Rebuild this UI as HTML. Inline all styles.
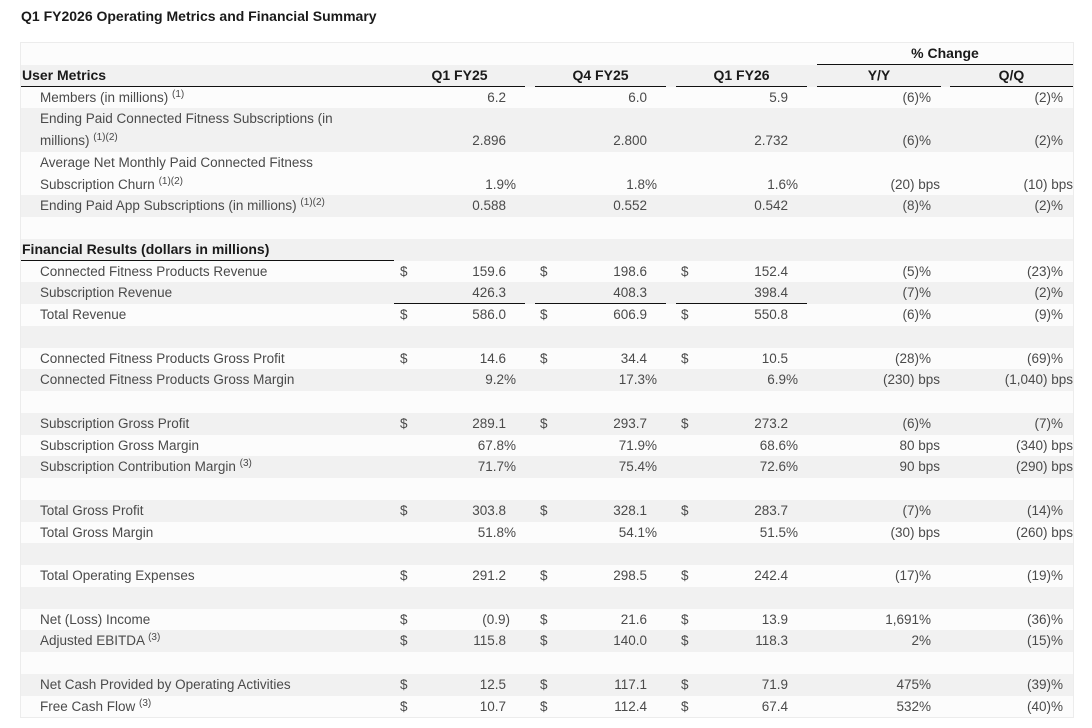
<!DOCTYPE html>
<html><head><meta charset="utf-8"><style>
body{margin:0;background:#fff;font-family:"Liberation Sans",sans-serif;color:#4a4a4a;width:1092px;height:728px;overflow:hidden;position:relative}
.t{position:absolute;left:21px;top:8px;font-size:14px;font-weight:bold;color:#1a1a1a}
.box{position:absolute;left:21px;top:43px;width:1052px;outline:1px solid #ececec}
.r{position:relative;height:21.75px;background:#fcfcfc;font-size:13.5px}
.r.g{background:#f1f1f1}
.r.h2{height:43.5px}
.r span{position:absolute;top:0;line-height:21.75px;white-space:nowrap}
.h2 span.b{top:21.75px}
.l{left:19px}
.hd{left:1px;font-weight:bold;color:#1a1a1a;font-size:14px}
.c{font-weight:bold;color:#1a1a1a;text-align:center;font-size:14px}
sup{font-size:10px;vertical-align:5px;line-height:0}
.d1{left:379px}.d2{left:519px}.d3{left:660px}
.v1{right:567px}.p1{right:557px}.v2{right:426px}.p2{right:416px}.v3{right:285px}.p3{right:275px}
.y{right:142px}.yb{right:133px}.q{right:10px}.qb{right:0px}
.u{position:absolute;height:1.5px;background:#111}
</style></head><body>
<div class="t">Q1 FY2026 Operating Metrics and Financial Summary</div>
<div class="box">
<div class="r"><span class="c" style="left:796px;width:256px">% Change</span><div class="u" style="left:796px;width:256px;top:21px"></div></div>
<div class="r g"><span class="hd">User Metrics</span><span class="c" style="left:373px;width:131px">Q1 FY25</span><span class="c" style="left:514px;width:131px">Q4 FY25</span><span class="c" style="left:655px;width:131px">Q1 FY26</span><span class="c" style="left:796px;width:124px">Y/Y</span><span class="c" style="left:929px;width:123px">Q/Q</span>
<div class="u" style="left:0;width:504px;top:21px"></div><div class="u" style="left:514px;width:131px;top:21px"></div><div class="u" style="left:655px;width:131px;top:21px"></div><div class="u" style="left:796px;width:124px;top:21px"></div><div class="u" style="left:929px;width:123px;top:21px"></div></div>
<div class="r"><span class="l">Members (in millions) <sup>(1)</sup></span><span class="v1">6.2</span><span class="v2">6.0</span><span class="v3">5.9</span><span class="y">(6)%</span><span class="q">(2)%</span></div>
<div class="r g h2"><span class="l">Ending Paid Connected Fitness Subscriptions (in</span><span class="l b">millions) <sup>(1)(2)</sup></span><span class="v1 b">2.896</span><span class="v2 b">2.800</span><span class="v3 b">2.732</span><span class="y b">(6)%</span><span class="q b">(2)%</span></div>
<div class="r h2"><span class="l">Average Net Monthly Paid Connected Fitness</span><span class="l b">Subscription Churn <sup>(1)(2)</sup></span><span class="p1 b">1.9%</span><span class="p2 b">1.8%</span><span class="p3 b">1.6%</span><span class="yb b">(20) bps</span><span class="qb b">(10) bps</span></div>
<div class="r g"><span class="l">Ending Paid App Subscriptions (in millions) <sup>(1)(2)</sup></span><span class="v1">0.588</span><span class="v2">0.552</span><span class="v3">0.542</span><span class="y">(8)%</span><span class="q">(2)%</span></div>
<div class="r"></div>
<div class="r g"><span class="hd">Financial Results (dollars in millions)</span><div class="u" style="left:0;width:373px;top:21px"></div></div>
<div class="r"><span class="l">Connected Fitness Products Revenue</span><span class="d1">$</span><span class="v1">159.6</span><span class="d2">$</span><span class="v2">198.6</span><span class="d3">$</span><span class="v3">152.4</span><span class="y">(5)%</span><span class="q">(23)%</span></div>
<div class="r g"><span class="l">Subscription Revenue</span><span class="v1">426.3</span><span class="v2">408.3</span><span class="v3">398.4</span><span class="y">(7)%</span><span class="q">(2)%</span><div class="u" style="left:373px;width:131px;top:21px"></div><div class="u" style="left:514px;width:131px;top:21px"></div><div class="u" style="left:655px;width:131px;top:21px"></div></div>
<div class="r"><span class="l">Total Revenue</span><span class="d1">$</span><span class="v1">586.0</span><span class="d2">$</span><span class="v2">606.9</span><span class="d3">$</span><span class="v3">550.8</span><span class="y">(6)%</span><span class="q">(9)%</span></div>
<div class="r g"></div>
<div class="r"><span class="l">Connected Fitness Products Gross Profit</span><span class="d1">$</span><span class="v1">14.6</span><span class="d2">$</span><span class="v2">34.4</span><span class="d3">$</span><span class="v3">10.5</span><span class="y">(28)%</span><span class="q">(69)%</span></div>
<div class="r g"><span class="l">Connected Fitness Products Gross Margin</span><span class="p1">9.2%</span><span class="p2">17.3%</span><span class="p3">6.9%</span><span class="yb">(230) bps</span><span class="qb">(1,040) bps</span></div>
<div class="r"></div>
<div class="r g"><span class="l">Subscription Gross Profit</span><span class="d1">$</span><span class="v1">289.1</span><span class="d2">$</span><span class="v2">293.7</span><span class="d3">$</span><span class="v3">273.2</span><span class="y">(6)%</span><span class="q">(7)%</span></div>
<div class="r"><span class="l">Subscription Gross Margin</span><span class="p1">67.8%</span><span class="p2">71.9%</span><span class="p3">68.6%</span><span class="yb">80 bps</span><span class="qb">(340) bps</span></div>
<div class="r g"><span class="l">Subscription Contribution Margin <sup>(3)</sup></span><span class="p1">71.7%</span><span class="p2">75.4%</span><span class="p3">72.6%</span><span class="yb">90 bps</span><span class="qb">(290) bps</span></div>
<div class="r"></div>
<div class="r g"><span class="l">Total Gross Profit</span><span class="d1">$</span><span class="v1">303.8</span><span class="d2">$</span><span class="v2">328.1</span><span class="d3">$</span><span class="v3">283.7</span><span class="y">(7)%</span><span class="q">(14)%</span></div>
<div class="r"><span class="l">Total Gross Margin</span><span class="p1">51.8%</span><span class="p2">54.1%</span><span class="p3">51.5%</span><span class="yb">(30) bps</span><span class="qb">(260) bps</span></div>
<div class="r g"></div>
<div class="r"><span class="l">Total Operating Expenses</span><span class="d1">$</span><span class="v1">291.2</span><span class="d2">$</span><span class="v2">298.5</span><span class="d3">$</span><span class="v3">242.4</span><span class="y">(17)%</span><span class="q">(19)%</span></div>
<div class="r g"></div>
<div class="r"><span class="l">Net (Loss) Income</span><span class="d1">$</span><span class="p1" style="right:563px">(0.9)</span><span class="d2">$</span><span class="v2">21.6</span><span class="d3">$</span><span class="v3">13.9</span><span class="y">1,691%</span><span class="q">(36)%</span></div>
<div class="r g"><span class="l">Adjusted EBITDA <sup>(3)</sup></span><span class="d1">$</span><span class="v1">115.8</span><span class="d2">$</span><span class="v2">140.0</span><span class="d3">$</span><span class="v3">118.3</span><span class="y">2%</span><span class="q">(15)%</span></div>
<div class="r"></div>
<div class="r g"><span class="l">Net Cash Provided by Operating Activities</span><span class="d1">$</span><span class="v1">12.5</span><span class="d2">$</span><span class="v2">117.1</span><span class="d3">$</span><span class="v3">71.9</span><span class="y">475%</span><span class="q">(39)%</span></div>
<div class="r"><span class="l">Free Cash Flow <sup>(3)</sup></span><span class="d1">$</span><span class="v1">10.7</span><span class="d2">$</span><span class="v2">112.4</span><span class="d3">$</span><span class="v3">67.4</span><span class="y">532%</span><span class="q">(40)%</span></div>
</div>
</body></html>
